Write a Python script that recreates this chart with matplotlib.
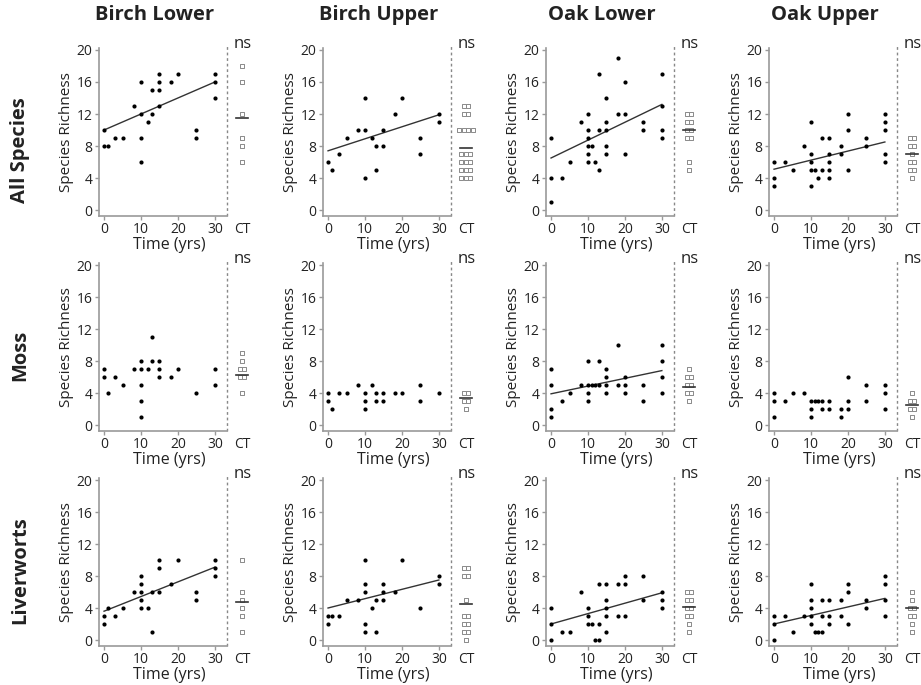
#=========================================================================
import numpy as np
import matplotlib
matplotlib.use('Agg')
import matplotlib.pyplot as plt

#=========================================================================
# column / row names
sites = ['Birch Lower', 'Birch Upper', 'Oak Lower', 'Oak Upper']
groups = ['All Species', 'Moss', 'Liverworts']

# ---- All Species
bl_all_t = [0, 0, 1, 3, 5, 8, 10, 10, 10, 10, 12, 13, 13, 15, 15, 15, 15, 18, 20, 25, 25, 30, 30, 30]
bl_all_s = [10, 8, 8, 9, 9, 13, 16, 12, 9, 6, 11, 15, 12, 17, 16, 15, 13, 16, 17, 10, 9, 17, 16, 14]
bl_all_ct = [18, 16, 12, 9, 8, 6]

bu_all_t = [0, 1, 3, 5, 8, 10, 10, 10, 12, 13, 13, 15, 15, 18, 20, 25, 25, 30, 30]
bu_all_s = [6, 5, 7, 9, 10, 14, 10, 4, 9, 8, 5, 10, 8, 12, 14, 9, 7, 12, 11]
bu_all_ct = [13, 13, 12, 12, 10, 10, 10, 10, 7, 7, 7, 6, 6, 6, 5, 5, 5, 4, 4, 4]

ol_all_t = [0, 0, 0, 3, 5, 8, 10, 10, 10, 10, 10, 10, 11, 12, 13, 13, 13, 15, 15, 15, 15, 15,
            18, 18, 20, 20, 20, 25, 25, 30, 30, 30, 30]
ol_all_s = [9, 4, 1, 4, 6, 11, 12, 10, 9, 8, 7, 6, 8, 6, 17, 10, 5, 14, 11, 10, 8, 7,
            19, 12, 16, 12, 7, 11, 10, 17, 13, 10, 9]
ol_all_ct = [12, 12, 11, 11, 10, 10, 9, 9, 6, 5]

ou_all_t = [0, 0, 0, 3, 5, 8, 10, 10, 10, 10, 10, 11, 12, 13, 13, 15, 15, 15, 15, 15,
            18, 18, 20, 20, 20, 25, 25, 30, 30, 30, 30, 30]
ou_all_s = [6, 4, 3, 6, 5, 8, 11, 7, 6, 5, 3, 5, 4, 9, 5, 9, 7, 6, 5, 4,
            8, 7, 12, 10, 5, 9, 8, 12, 11, 10, 7, 6]
ou_all_ct = [9, 9, 8, 8, 7, 6, 6, 5, 5, 4]

# ---- Moss
bl_moss_t = [0, 0, 1, 3, 5, 8, 10, 10, 10, 10, 10, 12, 13, 13, 15, 15, 15, 18, 20, 25, 30, 30]
bl_moss_s = [7, 6, 4, 6, 5, 7, 8, 7, 5, 3, 1, 7, 11, 8, 8, 7, 6, 6, 7, 4, 7, 5]
bl_moss_ct = [9, 8, 7, 7, 6, 6, 4]

bu_moss_t = [0, 0, 1, 3, 5, 8, 10, 10, 10, 12, 13, 13, 15, 15, 18, 20, 25, 25, 30]
bu_moss_s = [4, 3, 2, 4, 4, 5, 4, 3, 2, 5, 4, 3, 4, 3, 4, 4, 5, 3, 4]
bu_moss_ct = [4, 4, 3, 3, 2]

ol_moss_t = [0, 0, 0, 0, 3, 5, 8, 10, 10, 10, 10, 11, 12, 13, 13, 15, 15, 15, 15,
             18, 18, 20, 20, 20, 25, 25, 30, 30, 30, 30]
ol_moss_s = [7, 5, 2, 1, 3, 4, 5, 8, 5, 4, 3, 5, 5, 8, 5, 7, 6, 5, 4,
             10, 5, 6, 5, 4, 5, 3, 10, 8, 6, 4]
ol_moss_ct = [7, 6, 6, 5, 5, 4, 4, 3]

ou_moss_t = [0, 0, 0, 3, 5, 8, 10, 10, 10, 11, 12, 13, 13, 15, 15, 18, 18, 20, 20, 20, 25, 25, 30, 30, 30]
ou_moss_s = [4, 3, 1, 3, 4, 4, 3, 2, 1, 3, 3, 3, 2, 3, 2, 2, 1, 6, 3, 2, 5, 3, 5, 4, 2]
ou_moss_ct = [4, 3, 3, 2, 2, 1]

# ---- Liverworts
bl_liv_t = [0, 0, 1, 3, 5, 8, 10, 10, 10, 10, 10, 12, 13, 13, 15, 15, 15, 18, 20, 25, 25, 30, 30, 30]
bl_liv_s = [3, 2, 4, 3, 4, 6, 8, 7, 6, 5, 4, 4, 1, 6, 10, 9, 6, 7, 10, 6, 5, 10, 9, 8]
bl_liv_ct = [10, 6, 5, 4, 3, 1]

bu_liv_t = [0, 0, 1, 3, 5, 8, 10, 10, 10, 10, 10, 12, 13, 13, 15, 15, 15, 18, 20, 25, 30, 30]
bu_liv_s = [3, 2, 3, 3, 5, 5, 10, 7, 6, 2, 1, 4, 5, 1, 7, 6, 5, 6, 10, 4, 8, 7]
bu_liv_ct = [9, 9, 8, 8, 5, 3, 3, 2, 2, 1, 1, 0]

ol_liv_t = [0, 0, 0, 3, 5, 8, 10, 10, 10, 11, 12, 13, 13, 13, 15, 15, 15, 15, 15,
            18, 18, 20, 20, 20, 25, 25, 30, 30, 30]
ol_liv_s = [4, 2, 0, 1, 1, 6, 4, 3, 2, 2, 0, 0, 7, 2, 7, 5, 4, 3, 1,
            7, 3, 8, 7, 3, 8, 5, 6, 5, 4]
ol_liv_ct = [6, 6, 5, 5, 4, 4, 3, 3, 2, 1]

ou_liv_t = [0, 0, 0, 3, 5, 8, 10, 10, 10, 10, 10, 11, 12, 13, 13, 13, 15, 15, 15,
            18, 18, 20, 20, 20, 25, 25, 30, 30, 30, 30]
ou_liv_s = [3, 2, 0, 3, 1, 3, 7, 5, 4, 3, 2, 1, 1, 1, 5, 3, 5, 3, 2,
            5, 3, 7, 6, 2, 5, 4, 8, 7, 5, 3]
ou_liv_ct = [6, 5, 4, 4, 3, 3, 2, 1]

# control means (short bar) and fitted line ends at t=0 / t=30 (None = no line)
ct_mean = [[11.5, 7.8, 10.0, 7.0],
           [6.3, 3.4, 4.7, 2.5],
           [4.7, 4.5, 4.1, 4.0]]
fit_ends = [[(10.0, 16.0), (7.4, 11.9), (6.5, 13.2), (5.1, 8.5)],
            [None, None, (3.9, 6.8), None],
            [(3.6, 9.1), (4.0, 7.5), (2.0, 5.9), (2.0, 5.2)]]

panels = [[(bl_all_t, bl_all_s, bl_all_ct), (bu_all_t, bu_all_s, bu_all_ct),
           (ol_all_t, ol_all_s, ol_all_ct), (ou_all_t, ou_all_s, ou_all_ct)],
          [(bl_moss_t, bl_moss_s, bl_moss_ct), (bu_moss_t, bu_moss_s, bu_moss_ct),
           (ol_moss_t, ol_moss_s, ol_moss_ct), (ou_moss_t, ou_moss_s, ou_moss_ct)],
          [(bl_liv_t, bl_liv_s, bl_liv_ct), (bu_liv_t, bu_liv_s, bu_liv_ct),
           (ol_liv_t, ol_liv_s, ol_liv_ct), (ou_liv_t, ou_liv_s, ou_liv_ct)]]

#=========================================================================
plt.rcParams['font.family'] = ['Open Sans', 'DejaVu Sans']

W, H = 921.0, 685.0
fig = plt.figure(figsize=(W / 100, H / 100), dpi=100)

spine_col = '#9a9a9a'
text_col = '#222222'
ct_x = 37.3
dash_x = 33.2

col_left = [98.5, 322.5, 545.5, 768.5]   # px
row_bottom = [215.6, 430.6, 645.6]       # px from top
ax_w, ax_h = 157.0, 168.0


def ct_positions(vals, step=1.25):
  # spread repeated control values side by side
  xs = []
  seen = {}
  for v in vals:
    n = vals.count(v)
    i = seen.get(v, 0)
    seen[v] = i + 1
    xs.append(ct_x + (i - (n - 1) / 2.0) * step)
  return xs


for r in range(3):
  for c in range(4):
    t, s, ct = panels[r][c]
    ax = fig.add_axes([col_left[c] / W, 1 - row_bottom[r] / H, ax_w / W, ax_h / H])
    ax.set_xlim(-1.5, 41)
    ax.set_ylim(-0.7, 20.3)

    ax.scatter(t, s, s=9, color='black', zorder=3, linewidths=0)

    if fit_ends[r][c] is not None:
      y0, y1 = fit_ends[r][c]
      ax.plot([0, 30], [y0, y1], color='#333333', lw=1.0, zorder=2)

    # control plots
    ax.scatter(ct_positions(ct), ct, s=8, marker='s', facecolors='white',
               edgecolors='#8a8a8a', linewidths=0.7, zorder=3)
    m = ct_mean[r][c]
    ax.plot([ct_x - 1.6, ct_x + 1.6], [m, m], color='#333333', lw=1.2, zorder=4)

    ax.axvline(dash_x, ymin=0, ymax=1.02, color='#888888', lw=1.0,
               linestyle=(0, (2, 2)), clip_on=False)

    ax.text(35.2, 20.75, 'ns', fontsize=12, ha='left', va='center',
            color=text_col, clip_on=False)

    for side in ['top', 'right']:
      ax.spines[side].set_visible(False)
    ax.spines['left'].set_color(spine_col)
    ax.spines['bottom'].set_color(spine_col)
    ax.spines['left'].set_linewidth(1.2)
    ax.spines['bottom'].set_linewidth(1.2)
    ax.spines['bottom'].set_bounds(-1.5, dash_x)

    ax.set_yticks([0, 4, 8, 12, 16, 20])
    ax.set_xticks([0, 10, 20, 30, ct_x])
    ax.set_xticklabels(['0', '10', '20', '30', 'CT'])
    ax.xaxis.get_major_ticks()[-1].tick1line.set_visible(False)
    ax.tick_params(axis='both', direction='out', length=3, width=1,
                   color=spine_col, labelcolor=text_col, labelsize=10, pad=1.5)

    ax.set_ylabel('Species Richness', fontsize=11, color=text_col, labelpad=2)
    ax.set_xlabel('Time (yrs)', fontsize=11.5, color=text_col, labelpad=0)
    ax.xaxis.label.set_x(0.45)

# column titles
for c in range(4):
  fig.text((col_left[c] + 56.5) / W, 1 - 15 / H, sites[c], fontsize=14.5,
           fontweight='bold', ha='center', va='center', color=text_col)

# row labels
row_y = [150, 355, 570]
for r in range(3):
  fig.text(20 / W, 1 - row_y[r] / H, groups[r], fontsize=14.5, fontweight='bold',
           rotation=90, ha='center', va='center', color=text_col)

fig.savefig('out.png', dpi=100)
